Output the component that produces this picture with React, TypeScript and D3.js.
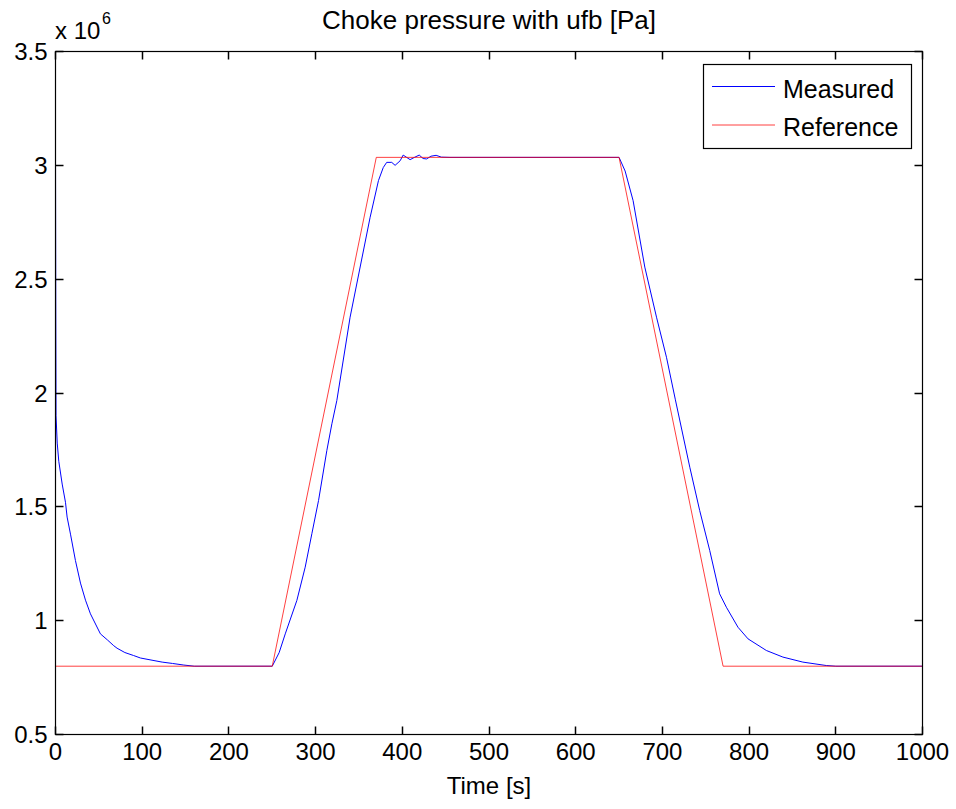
import React from "react";
import * as d3 from "d3";

// Data (values in units of 1e6 Pa)
const referenceTime = [0, 250, 370, 650, 770, 1000];
const referenceValue = [0.8, 0.8, 3.035, 3.035, 0.8, 0.8];

const measuredTime = [
  0, 0.3, 0.6, 2, 3.8, 7.7, 11.5, 13.4, 17.3, 23, 28.8, 34.6, 40.3, 51.8, 60, 67.2, 71, 80, 90, 98,
  109, 123, 135, 148, 160, 250, 258, 265, 278.4, 288, 295.7, 303.4, 313, 318.8, 324.5, 339.8, 362.9,
  372.5, 378, 382, 387.8, 391.7, 397.5, 401, 405, 409, 414, 419.5, 424, 428, 433, 439, 445, 455, 650,
  657, 666.2, 679.7, 693.2, 704.7, 715, 731.6, 743, 754.6, 766, 773.8, 787.2, 798.8, 819.9, 839, 862,
  889, 900, 1000,
];
const measuredValue = [
  3.035, 2.4, 1.9, 1.78, 1.7, 1.6, 1.52, 1.455, 1.38, 1.264, 1.165, 1.09, 1.03, 0.942, 0.915, 0.89,
  0.879, 0.86, 0.847, 0.836, 0.828, 0.818, 0.812, 0.805, 0.8, 0.8, 0.86, 0.942, 1.089, 1.235, 1.382,
  1.528, 1.748, 1.865, 1.967, 2.333, 2.772, 2.933, 2.99, 3.013, 3.013, 3.0, 3.02, 3.045, 3.035, 3.025,
  3.035, 3.045, 3.03, 3.028, 3.04, 3.044, 3.036, 3.035, 3.035, 2.975, 2.845, 2.553, 2.333, 2.157, 1.97,
  1.674, 1.484, 1.308, 1.118, 1.059, 0.971, 0.92, 0.869, 0.84, 0.818, 0.803, 0.8, 0.8,
];

const xTicks = [0, 100, 200, 300, 400, 500, 600, 700, 800, 900, 1000];
const yTicks = [0.5, 1, 1.5, 2, 2.5, 3, 3.5];
const yTickLabels = ["0.5", "1", "1.5", "2", "2.5", "3", "3.5"];

const seriesNames = ["Measured", "Reference"];
const seriesColors = ["#0000ff", "#ff0000"];

const W = 956;
const H = 809;
const left = 55.5;
const right = 922.5;
const top = 51.5;
const bottom = 734.5;
const font = "'Liberation Sans', Arial, Helvetica, sans-serif";
const fs = 24;

export default function App() {
  const x = d3.scaleLinear().domain([0, 1000]).range([left, right]);
  const y = d3.scaleLinear().domain([0.5, 3.5]).range([bottom, top]);

  const line = d3
    .line<[number, number]>()
    .x((d) => x(d[0]))
    .y((d) => y(d[1]));

  const measured = measuredTime.map((t, i) => [t, measuredValue[i]] as [number, number]);
  const reference = referenceTime.map((t, i) => [t, referenceValue[i]] as [number, number]);

  const tickLen = 8;
  const txt = { fontFamily: font, fontSize: fs + "px", fill: "#000" } as React.CSSProperties;
  const px = (v: number) => Math.round(v - 0.5) + 0.5;

  return (
    <svg
      width={W}
      height={H}
      style={{ position: "absolute", left: 0, top: 0, background: "#fff" }}
    >
      <rect x={0} y={0} width={W} height={H} fill="#fff" />
      <defs>
        <clipPath id="plotclip">
          <rect x={left} y={top} width={right - left} height={bottom - top} />
        </clipPath>
      </defs>

      {/* series */}
      <g clipPath="url(#plotclip)" fill="none">
        <path d={line(measured) || ""} stroke={seriesColors[0]} strokeWidth={1} fill="none" />
        <path d={line(reference) || ""} stroke={seriesColors[1]} strokeWidth={1} strokeOpacity={0.75} fill="none" />
      </g>

      {/* ticks */}
      {xTicks.map((t) => (
        <g key={"xt" + t}>
          <line x1={px(x(t))} x2={px(x(t))} y1={bottom} y2={bottom - tickLen} stroke="#000" strokeWidth={1.5} />
          <line x1={px(x(t))} x2={px(x(t))} y1={top} y2={top + tickLen} stroke="#000" strokeWidth={1.5} />
        </g>
      ))}
      {yTicks.map((t) => (
        <g key={"yt" + t}>
          <line x1={left} x2={left + tickLen} y1={px(y(t))} y2={px(y(t))} stroke="#000" strokeWidth={1.5} />
          <line x1={right} x2={right - tickLen} y1={px(y(t))} y2={px(y(t))} stroke="#000" strokeWidth={1.5} />
        </g>
      ))}

      {/* axes box */}
      <rect x={left} y={top} width={right - left} height={bottom - top} fill="none" stroke="#000" strokeWidth={1.2} />

      {/* tick labels */}
      {xTicks.map((t) => (
        <text key={"xl" + t} x={x(t)} y={bottom + 25} textAnchor="middle" style={txt}>
          {String(t)}
        </text>
      ))}
      {yTicks.map((t, i) => (
        <text key={"yl" + t} x={left - 8} y={y(t) + 8.5} textAnchor="end" style={txt}>
          {yTickLabels[i]}
        </text>
      ))}

      {/* exponent */}
      <text x={55} y={39} style={txt}>
        x 10
      </text>
      <text x={102} y={24} style={{ ...txt, fontSize: "16px" }}>
        6
      </text>

      {/* title & label */}
      <text x={(left + right) / 2} y={29} textAnchor="middle" style={{ ...txt, fontSize: "26px" }}>
        Choke pressure with ufb [Pa]
      </text>
      <text x={(left + right) / 2} y={794} textAnchor="middle" style={txt}>
        Time [s]
      </text>

      {/* legend */}
      <g>
        <rect x={703.5} y={64.5} width={208} height={84} fill="#fff" stroke="#000" strokeWidth={1.2} />
        {seriesNames.map((n, i) => (
          <g key={n}>
            <line
              x1={712}
              x2={775}
              y1={86.5 + i * 38.5}
              y2={86.5 + i * 38.5}
              stroke={seriesColors[i]}
              strokeWidth={1}
              strokeOpacity={i === 1 ? 0.75 : 1}
            />
            <text x={783} y={98 + i * 38} style={{ ...txt, fontSize: "25px" }}>
              {n}
            </text>
          </g>
        ))}
      </g>
    </svg>
  );
}
